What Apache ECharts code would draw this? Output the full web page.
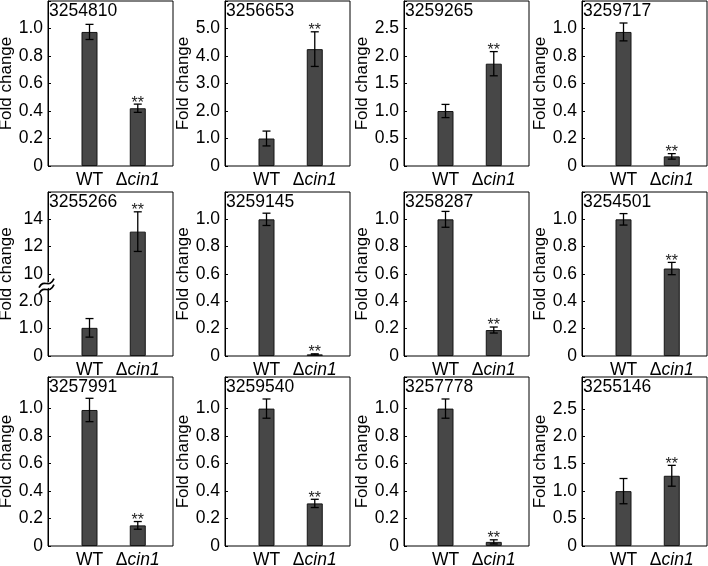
<!DOCTYPE html>
<html><head><meta charset="utf-8">
<script src="https://cdn.jsdelivr.net/npm/echarts@6/dist/echarts.min.js"></script>
<style>html,body{margin:0;padding:0;background:#fff}#c{width:708px;height:566px}</style>
</head><body><div id="c"></div>
<script>
// ---- data ----
const geneIds = ['3254810','3256653','3259265','3259717','3255266','3259145','3258287','3254501','3257991','3259540','3257778','3255146'];
const categories = ['WT', 'Δcin1'];
const wtMean  = [0.975, 1.0, 1.0, 0.975, 1.03, 1.0, 1.0, 1.0, 0.99, 1.0, 1.0, 1.0];
const wtErr   = [0.055, 0.27, 0.12, 0.065, 0.34, 0.045, 0.058, 0.042, 0.085, 0.07, 0.07, 0.23];
const cinMean = [0.42, 4.25, 1.86, 0.07, 13.1, 0.012, 0.19, 0.64, 0.15, 0.31, 0.03, 1.28];
const cinErr  = [0.03, 0.63, 0.22, 0.02, 1.45, 0.004, 0.022, 0.045, 0.028, 0.03, 0.015, 0.19];
const cinSig  = ['**','**','**','**','**','**','**','**','**','**','**','**'];
const yMax      = [1.2, 6, 3, 1.2, 6, 1.2, 1.2, 1.2, 1.23, 1.23, 1.23, 3.08];
const yInterval = [0.2, 1, 0.5, 0.2, 1, 0.2, 0.2, 0.2, 0.2, 0.2, 0.2, 0.5];
// broken axis panel (3255266): lower 0–2.5 linear, upper starts at 10 with half scale
const brokenPanel = 4;
const brokenLowerTicks = [0, 1.0, 2.0];
const brokenUpperTicks = [10, 12, 14];
const breakAt = 2.5;

// ---- layout ----
const FONT = "'Liberation Sans', Arial, Helvetica, sans-serif";
const FS = 17.5;
const colLeft = [48, 225, 404, 582];
const rowTop = [1, 192, 377];
const rowHeight = [165, 164, 169];
const panelWidth = 125;
const xMin = 0.14, xMax = 2.73;

function toAxis(i, v) {
  if (i !== brokenPanel || v <= breakAt) return v;
  return brokenLowerTicks.length + (v - brokenUpperTicks[0]) / (brokenUpperTicks[1] - brokenUpperTicks[0]);
}
function axisLabelFor(i, d) {
  if (i === brokenPanel) {
    const k = Math.round(d);
    if (k < brokenLowerTicks.length) return k === 0 ? '0' : brokenLowerTicks[k].toFixed(1);
    const u = k - brokenLowerTicks.length;
    return u < brokenUpperTicks.length ? String(brokenUpperTicks[u]) : '';
  }
  if (d > yMax[i] - yInterval[i] + 1e-6) return '';
  if (Math.abs(d) < 1e-9) return '0';
  return d.toFixed(1);
}

const grids = [], xAxes = [], yAxes = [], series = [], titles = [];
for (let i = 0; i < 12; i++) {
  const r = Math.floor(i / 4), c = i % 4;
  grids.push({ left: colLeft[c], top: rowTop[r], width: panelWidth, height: rowHeight[r],
    show: true, borderColor: '#000', borderWidth: 1, backgroundColor: 'transparent',
    containLabel: false, outerBoundsMode: 'none' });
  xAxes.push({ gridIndex: i, type: 'value', min: xMin, max: xMax,
    axisLine: { show: false }, axisTick: { show: false }, splitLine: { show: false },
    axisLabel: { show: true, customValues: [1, 2], margin: 5, color: '#000', fontSize: FS, fontFamily: FONT,
      formatter: v => Math.round(v) === 1 ? categories[0] : '{d|Δ}{i|' + categories[1].slice(1) + '}',
      rich: { d: { fontSize: FS, fontFamily: FONT, color: '#000' },
              i: { fontSize: FS, fontFamily: FONT, color: '#000', fontStyle: 'italic' } } } });
  yAxes.push({ gridIndex: i, type: 'value', min: 0, max: yMax[i], interval: yInterval[i],
    name: 'Fold change', nameLocation: 'middle', nameGap: 28,
    nameTextStyle: { fontSize: 17, fontFamily: FONT, color: '#000' },
    axisLine: { show: true, lineStyle: { color: '#000', width: 1 } },
    axisTick: { show: true, inside: true, length: 3, lineStyle: { color: '#000', width: 1 } },
    splitLine: { show: false },
    axisLabel: { margin: 5, color: '#000', fontSize: FS, fontFamily: FONT, showMaxLabel: true,
      formatter: v => axisLabelFor(i, v) } });
  titles.push({ text: geneIds[i], left: colLeft[c] + 1, top: rowTop[r] + 1, padding: 0,
    textStyle: { fontSize: FS, fontWeight: 'normal', color: '#000', fontFamily: FONT } });

  const means = [wtMean[i], cinMean[i]], errs = [wtErr[i], cinErr[i]], sigs = ['', cinSig[i]];
  series.push({ type: 'bar', xAxisIndex: i, yAxisIndex: i, barWidth: 16, z: 2,
    itemStyle: { color: '#474747', borderColor: '#151515', borderWidth: 1 },
    data: [[1, toAxis(i, means[0])], [2, toAxis(i, means[1])]], silent: true, animation: false });
  series.push({ type: 'custom', xAxisIndex: i, yAxisIndex: i, clip: false, silent: true, animation: false, z: 4,
    data: [[1, toAxis(i, means[0] + errs[0])], [2, toAxis(i, means[1] + errs[1])]],
    renderItem: (params, api) => {
      const k = params.dataIndex, x = k + 1;
      const top = api.coord([x, toAxis(i, means[k] + errs[k])]);
      const bot = api.coord([x, toAxis(i, means[k] - errs[k])]);
      const hw = 4, ls = { stroke: '#000', lineWidth: 1.3 };
      const children = [
        { type: 'line', shape: { x1: top[0], y1: top[1], x2: bot[0], y2: bot[1] }, style: ls },
        { type: 'line', shape: { x1: top[0] - hw, y1: top[1], x2: top[0] + hw, y2: top[1] }, style: ls },
        { type: 'line', shape: { x1: bot[0] - hw, y1: bot[1], x2: bot[0] + hw, y2: bot[1] }, style: ls }
      ];
      if (sigs[k]) children.push({ type: 'text', x: top[0], y: top[1] + 7,
        style: { text: sigs[k], fontSize: 16, fontFamily: FONT, fill: '#222', align: 'center', verticalAlign: 'bottom' } });
      return { type: 'group', children };
    } });
  if (i === brokenPanel) {
    series.push({ type: 'custom', xAxisIndex: i, yAxisIndex: i, clip: false, silent: true, animation: false, z: 5,
      data: [[xMin, breakAt]],
      renderItem: (params, api) => {
        const p = api.coord([xMin, breakAt]);
        const cx = p[0], cy = p[1];
        const curve = (dy) => ({ type: 'bezierCurve',
          shape: { x1: cx - 9, y1: cy + 3 + dy, cpx1: cx - 4, cpy1: cy - 7 + dy, cpx2: cx + 1, cpy2: cy + 5 + dy, x2: cx + 6, y2: cy - 6 + dy },
          style: { stroke: '#000', lineWidth: 1.7, fill: null } });
        return { type: 'group', children: [
          { type: 'polygon', shape: { points: [[cx - 9, cy + 0], [cx + 6, cy - 9], [cx + 6, cy - 3], [cx - 9, cy + 6]] },
            style: { fill: '#fff' } },
          curve(-3), curve(3)
        ] };
      } });
  }
}

const chart = echarts.init(document.getElementById('c'), null, { renderer: 'canvas' });
chart.setOption({
  backgroundColor: '#fff', animation: false,
  textStyle: { fontFamily: FONT },
  title: titles, grid: grids, xAxis: xAxes, yAxis: yAxes, series
});
</script></body></html>
